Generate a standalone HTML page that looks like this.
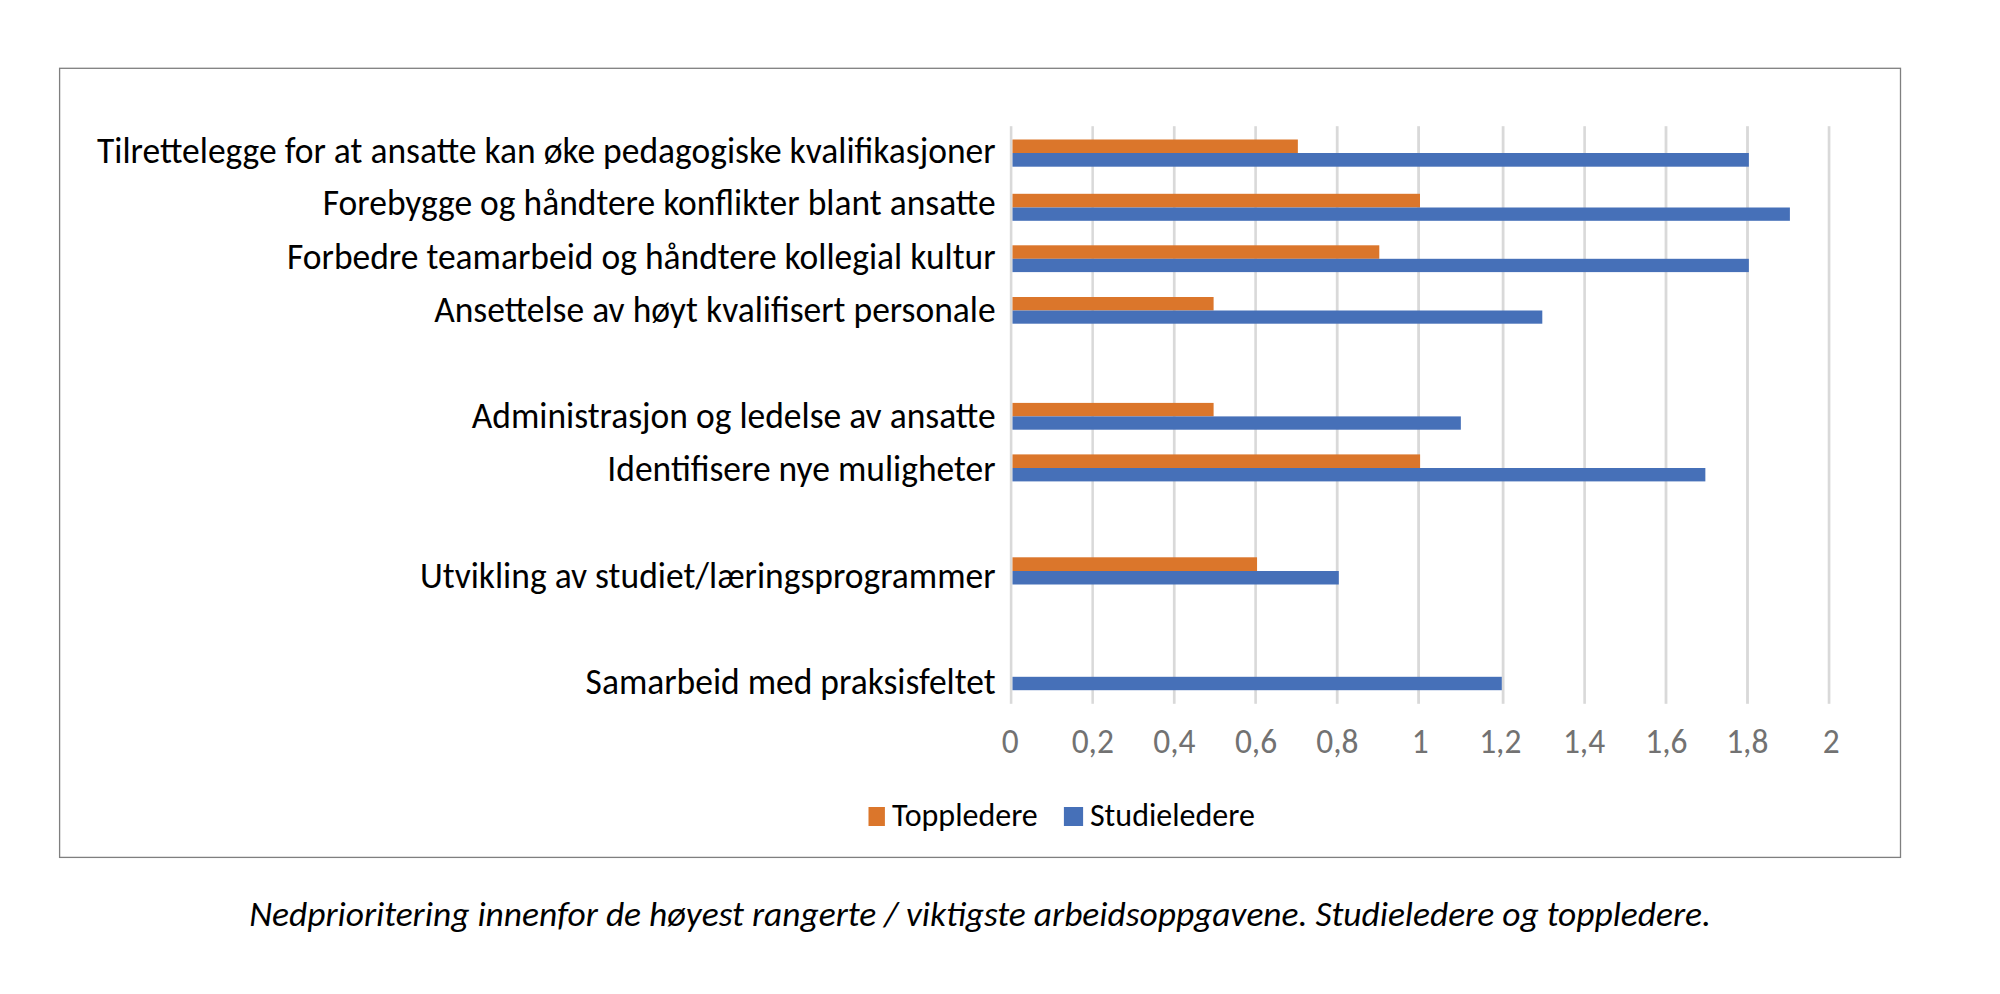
<!DOCTYPE html>
<html lang="no"><head><meta charset="utf-8"><title>Nedprioritering</title>
<style>html,body{margin:0;padding:0;background:#fff}body{width:2000px;height:994px;overflow:hidden}svg{display:block}text{font-family:Carlito, "Liberation Sans", sans-serif;font-size-adjust:0.4775;font-kerning:normal;font-variant-ligatures:common-ligatures}</style></head><body>
<svg width="2000" height="994" viewBox="0 0 2000 994">
<rect x="0" y="0" width="2000" height="994" fill="#fff"/>
<rect x="59.6" y="68.3" width="1840.9" height="789.1" fill="none" stroke="#7f7f7f" stroke-width="1.3"/>
<rect x="1009.80" y="126.2" width="2.60" height="577.6" fill="#D9D9D9"/>
<rect x="1091.40" y="126.2" width="2.50" height="577.6" fill="#D9D9D9"/>
<rect x="1172.90" y="126.2" width="2.70" height="577.6" fill="#D9D9D9"/>
<rect x="1254.30" y="126.2" width="2.60" height="577.6" fill="#D9D9D9"/>
<rect x="1335.80" y="126.2" width="2.80" height="577.6" fill="#D9D9D9"/>
<rect x="1417.20" y="126.2" width="2.80" height="577.6" fill="#D9D9D9"/>
<rect x="1501.70" y="126.2" width="2.80" height="577.6" fill="#D9D9D9"/>
<rect x="1583.30" y="126.2" width="2.60" height="577.6" fill="#D9D9D9"/>
<rect x="1664.60" y="126.2" width="2.80" height="577.6" fill="#D9D9D9"/>
<rect x="1746.10" y="126.2" width="2.80" height="577.6" fill="#D9D9D9"/>
<rect x="1827.70" y="126.2" width="2.70" height="577.6" fill="#D9D9D9"/>
<rect x="1012.50" y="139.50" width="285.35" height="13.50" fill="#DB762B"/>
<rect x="1012.50" y="153.00" width="736.35" height="13.70" fill="#4670B8"/>
<rect x="1012.50" y="193.80" width="407.50" height="13.70" fill="#DB762B"/>
<rect x="1012.50" y="207.50" width="777.40" height="13.30" fill="#4670B8"/>
<rect x="1012.50" y="245.30" width="366.80" height="13.50" fill="#DB762B"/>
<rect x="1012.50" y="258.80" width="736.35" height="13.30" fill="#4670B8"/>
<rect x="1012.50" y="297.00" width="201.10" height="13.50" fill="#DB762B"/>
<rect x="1012.50" y="310.50" width="529.80" height="13.20" fill="#4670B8"/>
<rect x="1012.50" y="402.90" width="201.10" height="13.50" fill="#DB762B"/>
<rect x="1012.50" y="416.40" width="448.35" height="13.30" fill="#4670B8"/>
<rect x="1012.50" y="454.40" width="407.60" height="13.60" fill="#DB762B"/>
<rect x="1012.50" y="468.00" width="692.85" height="13.40" fill="#4670B8"/>
<rect x="1012.50" y="557.30" width="244.55" height="13.70" fill="#DB762B"/>
<rect x="1012.50" y="571.00" width="326.30" height="13.50" fill="#4670B8"/>
<rect x="1012.50" y="676.80" width="489.30" height="13.40" fill="#4670B8"/>
<text class="cat" x="995.6" y="162.75" text-anchor="end" font-size="36.0" textLength="898.6" lengthAdjust="spacingAndGlyphs" fill="#000">Tilrettelegge for at ansatte kan øke pedagogiske kvalifikasjoner</text>
<text class="cat" x="995.6" y="214.95" text-anchor="end" font-size="36.0" textLength="672.8" lengthAdjust="spacingAndGlyphs" fill="#000">Forebygge og håndtere konflikter blant ansatte</text>
<text class="cat" x="995.6" y="268.75" text-anchor="end" font-size="36.0" textLength="708.6" lengthAdjust="spacingAndGlyphs" fill="#000">Forbedre teamarbeid og håndtere kollegial kultur</text>
<text class="cat" x="995.6" y="321.55" text-anchor="end" font-size="36.0" textLength="561.4" lengthAdjust="spacingAndGlyphs" fill="#000">Ansettelse av høyt kvalifisert personale</text>
<text class="cat" x="995.6" y="427.85" text-anchor="end" font-size="36.0" textLength="523.8" lengthAdjust="spacingAndGlyphs" fill="#000">Administrasjon og ledelse av ansatte</text>
<text class="cat" x="995.6" y="480.95" text-anchor="end" font-size="36.0" textLength="388.3" lengthAdjust="spacingAndGlyphs" fill="#000">Identifisere nye muligheter</text>
<text class="cat" x="995.6" y="587.55" text-anchor="end" font-size="36.0" textLength="575.6" lengthAdjust="spacingAndGlyphs" fill="#000">Utvikling av studiet/læringsprogrammer</text>
<text class="cat" x="995.6" y="693.65" text-anchor="end" font-size="36.0" textLength="410.0" lengthAdjust="spacingAndGlyphs" fill="#000">Samarbeid med praksisfeltet</text>
<text class="ax" x="1010.20" y="753" text-anchor="middle" font-size="34.8" textLength="16.9" lengthAdjust="spacingAndGlyphs" fill="#727272">0</text>
<text class="ax" x="1092.75" y="753" text-anchor="middle" font-size="34.8" textLength="42.2" lengthAdjust="spacingAndGlyphs" fill="#727272">0,2</text>
<text class="ax" x="1174.35" y="753" text-anchor="middle" font-size="34.8" textLength="42.2" lengthAdjust="spacingAndGlyphs" fill="#727272">0,4</text>
<text class="ax" x="1256.00" y="753" text-anchor="middle" font-size="34.8" textLength="42.2" lengthAdjust="spacingAndGlyphs" fill="#727272">0,6</text>
<text class="ax" x="1337.40" y="753" text-anchor="middle" font-size="34.8" textLength="42.2" lengthAdjust="spacingAndGlyphs" fill="#727272">0,8</text>
<text class="ax" x="1420.20" y="753" text-anchor="middle" font-size="34.8" textLength="16.9" lengthAdjust="spacingAndGlyphs" fill="#727272">1</text>
<text class="ax" x="1500.30" y="753" text-anchor="middle" font-size="34.8" textLength="42.2" lengthAdjust="spacingAndGlyphs" fill="#727272">1,2</text>
<text class="ax" x="1584.00" y="753" text-anchor="middle" font-size="34.8" textLength="42.2" lengthAdjust="spacingAndGlyphs" fill="#727272">1,4</text>
<text class="ax" x="1666.40" y="753" text-anchor="middle" font-size="34.8" textLength="42.2" lengthAdjust="spacingAndGlyphs" fill="#727272">1,6</text>
<text class="ax" x="1747.30" y="753" text-anchor="middle" font-size="34.8" textLength="42.2" lengthAdjust="spacingAndGlyphs" fill="#727272">1,8</text>
<text class="ax" x="1831.10" y="753" text-anchor="middle" font-size="34.8" textLength="16.9" lengthAdjust="spacingAndGlyphs" fill="#727272">2</text>
<rect x="868.5" y="807" width="16.4" height="19" fill="#DB762B"/>
<text class="lg" x="891.9" y="826" font-size="32.2" textLength="145.9" lengthAdjust="spacingAndGlyphs" fill="#000">Toppledere</text>
<rect x="1063.9" y="807" width="19.2" height="19" fill="#4670B8"/>
<text class="lg" x="1089.9" y="826" font-size="32.2" textLength="165" lengthAdjust="spacingAndGlyphs" fill="#000">Studieledere</text>
<text class="cap" x="249.2" y="925.5" font-size="35.5" font-style="italic" textLength="1461.8" lengthAdjust="spacingAndGlyphs" fill="#000">Nedprioritering innenfor de høyest rangerte / viktigste arbeidsoppgavene. Studieledere og toppledere.</text>
</svg></body></html>
